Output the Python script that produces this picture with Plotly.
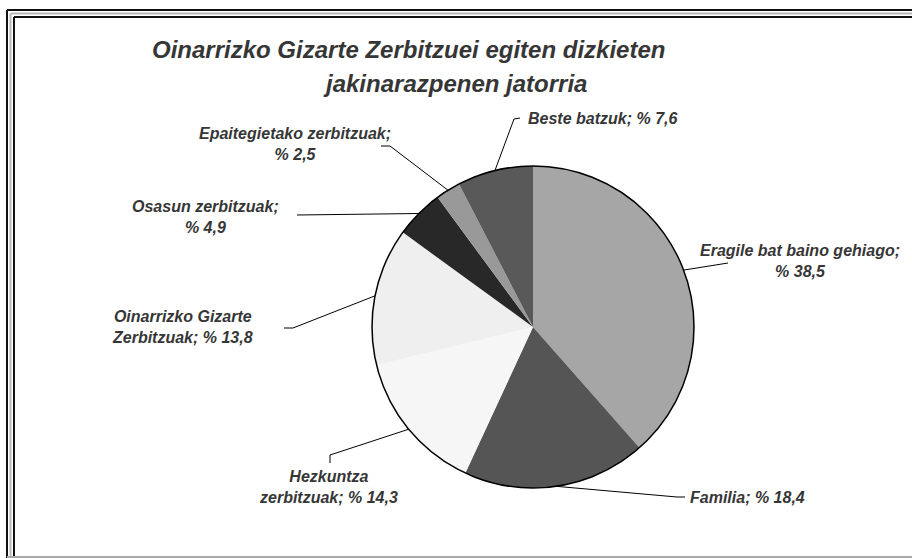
import math
import plotly.graph_objects as go

# ---- data ----
categories = ["Eragile bat baino gehiago", "Familia", "Hezkuntza zerbitzuak",
              "Oinarrizko Gizarte Zerbitzuak", "Osasun zerbitzuak",
              "Epaitegietako zerbitzuak", "Beste batzuk"]
values = [38.5, 18.4, 14.3, 13.8, 4.9, 2.5, 7.6]
label_names = ["Eragile bat baino gehiago;<br>", "Familia; ", "Hezkuntza<br>zerbitzuak; ",
               "Oinarrizko Gizarte<br>Zerbitzuak; ", "Osasun zerbitzuak;<br>",
               "Epaitegietako zerbitzuak;<br>", "Beste batzuk; "]
colors = ["#a6a6a6", "#555555", "#f6f6f6", "#efefef", "#282828", "#999999", "#595959"]
title_lines = ["Oinarrizko Gizarte Zerbitzuei egiten dizkieten", "jakinarazpenen jatorria"]

# ---- layout (pixels) ----
W, H = 912, 558
CX, CY, R = 533, 327, 161
def px(x): return x / W
def py(y): return 1 - y / H

# label anchor (x, y, xanchor) and leader-line bend points (pixels)
label_pos = [(800, 261, "center"), (688, 497, "left"), (328, 487, "center"),
             (182, 327, "center"), (205, 217, "center"), (295, 144, "center"),
             (526, 119, "left")]
leader_pts = [[(728, 263)], [(677, 497), (685, 497)], [(330, 455), (330, 463)],
              [(293, 328), (284, 328)], [(297, 215)], [(390, 146), (381, 146)],
              [(514, 119), (520, 118)]]

font_family = "Liberation Sans, Arial, sans-serif"
txt_color = "#363636"

fig = go.Figure(go.Pie(
    labels=categories, values=values, sort=False, direction="clockwise",
    rotation=0, marker=dict(colors=colors, line=dict(width=0)),
    textinfo="none", hoverinfo="label+percent", showlegend=False,
    domain=dict(x=[px(CX - R), px(CX + R)], y=[py(CY + R), py(CY - R)]),
))

shapes = []
def seg(x0, y0, x1, y1, color, width):
    shapes.append(dict(type="line", xref="paper", yref="paper", x0=px(x0), y0=py(y0),
                       x1=px(x1), y1=py(y1), line=dict(color=color, width=width)))

# frame (left and top edges only; right/bottom fall outside the picture)
for off, col in [(0, "#111111"), (3.5, "#b8b8b8"), (7, "#111111")]:
    seg(7 + off, 10 + off, 7 + off, 560, col, 2)
    seg(7 + off, 10 + off, 914, 10 + off, col, 2)
seg(7, 557, 912, 557, "#a8a8a8", 2)

# pie outline
shapes.append(dict(type="circle", xref="paper", yref="paper", x0=px(CX - R), x1=px(CX + R),
                   y0=py(CY + R), y1=py(CY - R), line=dict(color="#000000", width=1.5)))

annotations = []
total = sum(values)
cum = 0
for i, v in enumerate(values):
    mid = (cum + v / 2) / total * 2 * math.pi
    cum += v
    ex, ey = CX + R * math.sin(mid), CY - R * math.cos(mid)
    pts = [(ex, ey)] + leader_pts[i]
    for (x0, y0), (x1, y1) in zip(pts[:-1], pts[1:]):
        seg(x0, y0, x1, y1, "#000000", 1)
    lx, ly, anchor = label_pos[i]
    txt = label_names[i] + "% " + f"{v:.1f}".replace(".", ",")
    annotations.append(dict(x=px(lx), y=py(ly), xref="paper", yref="paper", text=txt,
                            showarrow=False, xanchor=anchor, yanchor="middle", align="center",
                            font=dict(family=font_family, size=16, color=txt_color,
                                      weight="bold", style="italic")))

for (tx, ty), t in zip([(408, 49), (455, 83)], title_lines):
    annotations.append(dict(x=px(tx), y=py(ty), xref="paper", yref="paper", text=t,
                            showarrow=False, xanchor="center", yanchor="middle",
                            font=dict(family=font_family, size=24, color="#363636",
                                      weight="bold", style="italic")))

fig.update_layout(width=W, height=H, margin=dict(l=0, r=0, t=0, b=0),
                  paper_bgcolor="white", plot_bgcolor="white",
                  shapes=shapes, annotations=annotations)
fig.write_html("out.html", config={"displayModeBar": False},
               post_script="document.body.style.margin='0px';document.body.style.overflow='hidden';")
